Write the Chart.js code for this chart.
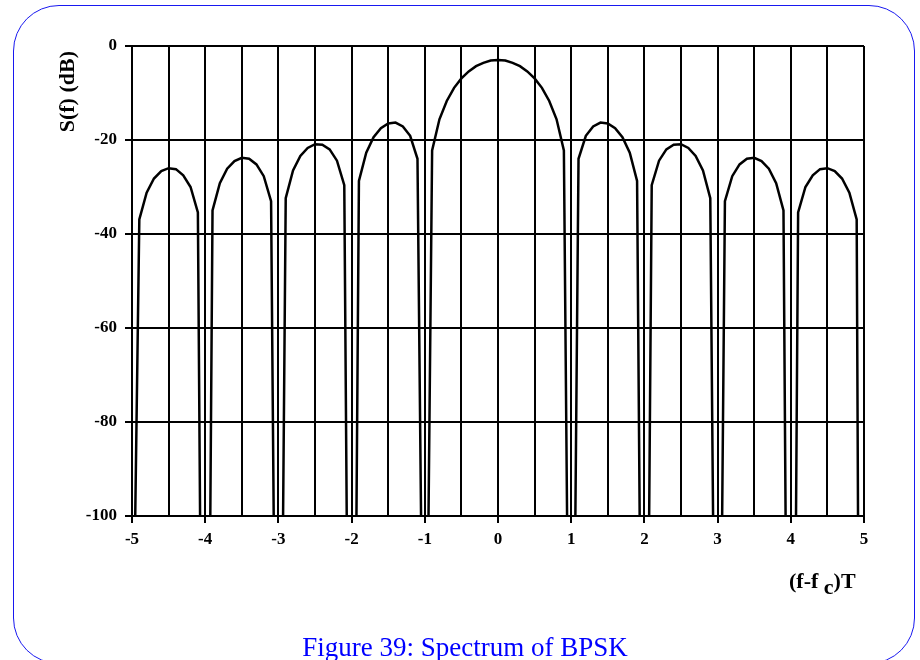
<!DOCTYPE html>
<html><head><meta charset="utf-8">
<script src="https://cdn.jsdelivr.net/npm/chart.js@4"></script>
<style>
html,body{margin:0;padding:0;width:920px;height:660px;overflow:hidden;background:#fff;}
#frame{position:absolute;left:13px;top:5px;width:902px;height:659px;border:1px solid #1818f0;border-radius:46px;box-sizing:border-box;}
#wrap{position:absolute;left:0;top:0;width:920px;height:660px;}
#caption{position:absolute;left:5px;width:920px;top:634px;text-align:center;font-family:"Liberation Serif",serif;font-size:27px;line-height:27px;color:#0000ff;white-space:nowrap;}
</style></head><body>
<div id="frame"></div>
<div id="wrap"><canvas id="c" width="920" height="660"></canvas></div>
<div id="caption">Figure 39: Spectrum of BPSK</div>
<script>
// normalized frequency (f-fc)T
const freq = [
 -5.0,-4.9,-4.8,-4.7,-4.6,-4.5,-4.4,-4.3,-4.2,-4.1,
 -4.0,-3.9,-3.8,-3.7,-3.6,-3.5,-3.4,-3.3,-3.2,-3.1,
 -3.0,-2.9,-2.8,-2.7,-2.6,-2.5,-2.4,-2.3,-2.2,-2.1,
 -2.0,-1.9,-1.8,-1.7,-1.6,-1.5,-1.4,-1.3,-1.2,-1.1,
 -1.0,-0.9,-0.8,-0.7,-0.6,-0.5,-0.4,-0.3,-0.2,-0.1,
  0.0,
  0.1, 0.2, 0.3, 0.4, 0.5, 0.6, 0.7, 0.8, 0.9, 1.0,
  1.1, 1.2, 1.3, 1.4, 1.5, 1.6, 1.7, 1.8, 1.9, 2.0,
  2.1, 2.2, 2.3, 2.4, 2.5, 2.6, 2.7, 2.8, 2.9, 3.0,
  3.1, 3.2, 3.3, 3.4, 3.5, 3.6, 3.7, 3.8, 3.9, 4.0,
  4.1, 4.2, 4.3, 4.4, 4.5, 4.6, 4.7, 4.8, 4.9, 5.0
];
// S(f) in dB (values at the nulls fall far below the axis)
const sdb = [
 -150,-36.9,-31.2,-28.2,-26.6,-26.0,-26.2,-27.5,-30.0,-35.4,
 -250,-35.0,-29.2,-26.1,-24.5,-23.8,-24.0,-25.2,-27.7,-33.0,
 -220,-32.4,-26.5,-23.4,-21.7,-20.9,-21.0,-22.0,-24.4,-29.6,
 -240,-28.7,-22.7,-19.4,-17.5,-16.5,-16.3,-17.1,-19.1,-24.0,
 -180,-22.2,-15.6,-11.7,-8.9,-6.9,-5.4,-4.3,-3.6,-3.1,
 -3.0,
 -3.1,-3.6,-4.3,-5.4,-6.9,-8.9,-11.7,-15.6,-22.2,-200,
 -24.0,-19.1,-17.1,-16.3,-16.5,-17.5,-19.4,-22.7,-28.7,-230,
 -29.6,-24.4,-22.0,-21.0,-20.9,-21.7,-23.4,-26.5,-32.4,-210,
 -33.0,-27.7,-25.2,-24.0,-23.8,-24.5,-26.1,-29.2,-35.0,-260,
 -35.4,-30.0,-27.5,-26.2,-26.0,-26.6,-28.2,-31.2,-36.9,-380
];
const xGrid = [-5,-4.5,-4,-3.5,-3,-2.5,-2,-1.5,-1,-0.5,0,0.5,1,1.5,2,2.5,3,3.5,4,4.5,5];
const xLabels = [-5,-4,-3,-2,-1,0,1,2,3,4,5];
const yTicks = [-100,-80,-60,-40,-20,0];
const yTitle = 'S(f) (dB)';
const xTitleParts = ['(f-f', 'c', ')T'];

const isLabel = v => xLabels.indexOf(v) >= 0;
const tickFont = {family:'"Liberation Serif", "Times New Roman", serif', weight:'bold', size:17};

const titles = {
  id:'titles',
  afterDraw(chart){
    const ctx = chart.ctx, a = chart.chartArea;
    ctx.save();
    ctx.fillStyle = '#000';
    ctx.font = 'bold 22px "Liberation Serif", serif';
    // y title (rotated, near top)
    ctx.save();
    ctx.translate(a.left - 64, a.top + 5);
    ctx.rotate(-Math.PI/2);
    ctx.textAlign = 'right';
    ctx.textBaseline = 'middle';
    ctx.fillText(yTitle, 0, 0);
    ctx.restore();
    // x title with subscript
    ctx.textAlign = 'left';
    ctx.textBaseline = 'alphabetic';
    let x = a.right - 75, y = a.bottom + 72;
    ctx.fillText(xTitleParts[0], x, y);
    x += ctx.measureText(xTitleParts[0] + ' ').width;
    ctx.fillText(xTitleParts[1], x, y + 6);
    x += ctx.measureText(xTitleParts[1]).width;
    ctx.fillText(xTitleParts[2], x, y);
    ctx.restore();
  }
};

new Chart(document.getElementById('c'), {
  type:'line',
  data:{datasets:[{
    data: freq.map((f,i)=>({x:f, y:sdb[i]})),
    borderColor:'#000', borderWidth:2.5, pointRadius:0, tension:0, fill:false, clip:1
  }]},
  options:{
    responsive:false, animation:false, devicePixelRatio:1,
    layout:{padding:{left:0, top:46, right:56, bottom:0}},
    plugins:{legend:{display:false}, tooltip:{enabled:false}, title:{display:false}},
    scales:{
      x:{
        type:'linear', min:-5, max:5,
        afterFit(s){ s.height = 144; },
        afterBuildTicks(s){ s.ticks = xGrid.map(v=>({value:v})); },
        grid:{color:'#000', lineWidth:2, tickLength:7,
              tickColor: c => (c.tick && isLabel(c.tick.value)) ? '#000' : 'rgba(0,0,0,0)'},
        border:{color:'#000', width:2},
        ticks:{autoSkip:false, maxRotation:0, minRotation:0, padding:6, color:'#000', font:tickFont,
               callback: v => isLabel(v) ? String(v) : ''}
      },
      y:{
        type:'linear', min:-100, max:0,
        afterFit(s){ s.width = 132; },
        afterBuildTicks(s){ s.ticks = yTicks.map(v=>({value:v})); },
        grid:{color:'#000', lineWidth:2, tickLength:7, tickColor:'#000'},
        border:{color:'#000', width:2},
        ticks:{padding:8, color:'#000', font:tickFont, callback: v => String(v)}
      }
    }
  },
  plugins:[titles]
});
</script>
</body></html>
